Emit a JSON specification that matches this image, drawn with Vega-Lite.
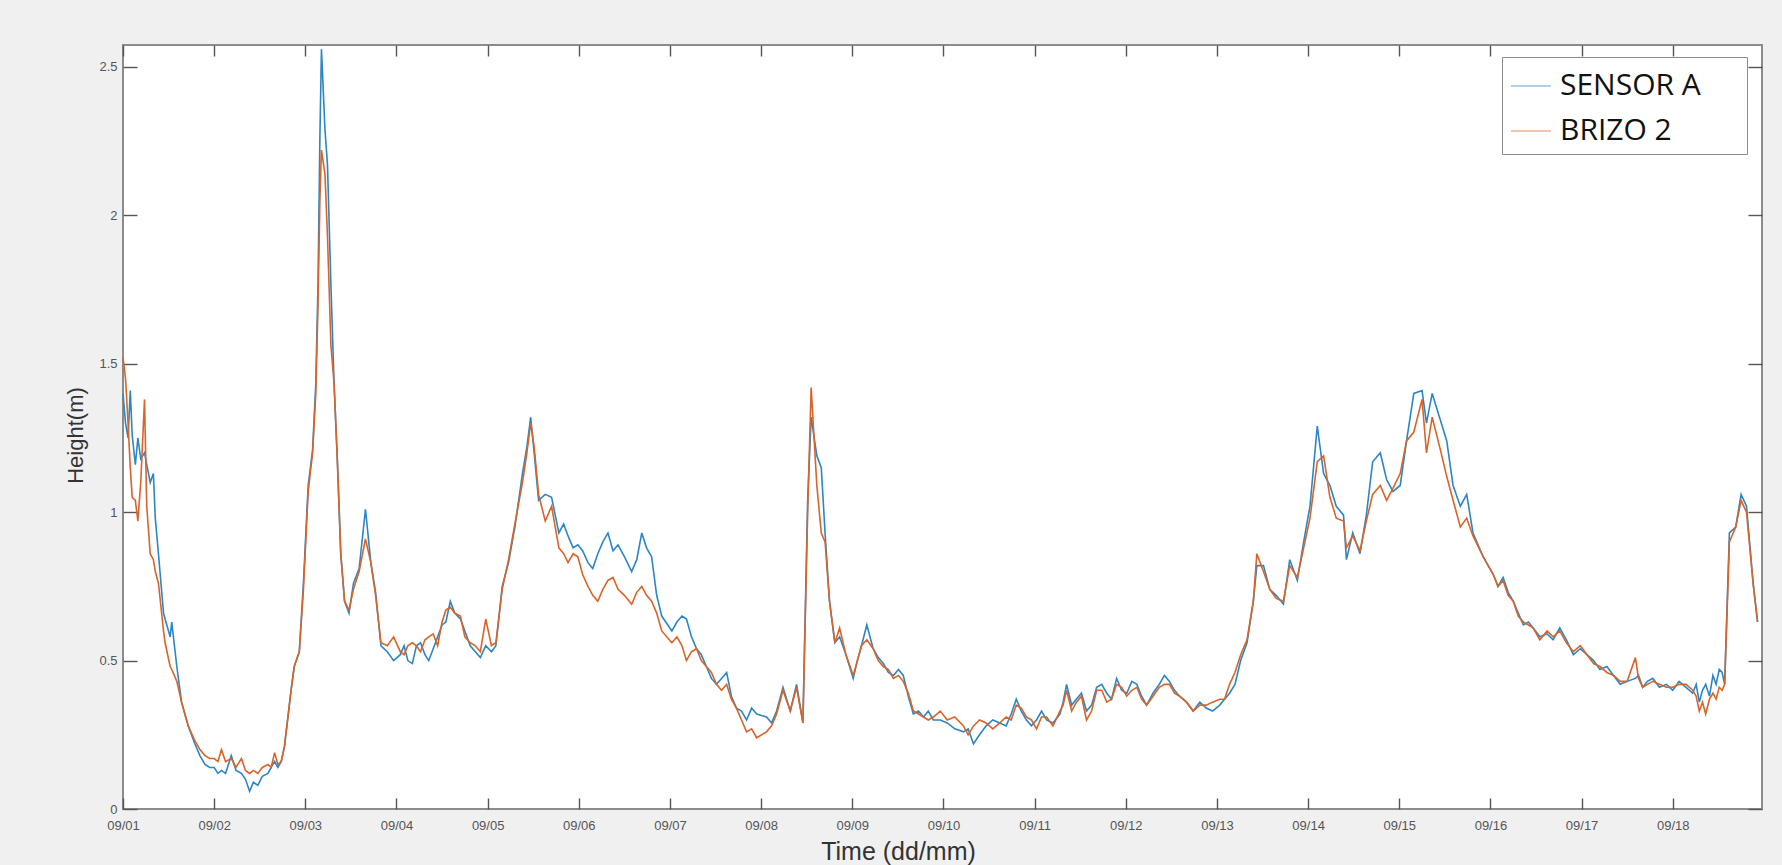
{
  "$schema": "https://vega.github.io/schema/vega-lite/v6.json",
  "autosize": "none",
  "width": 1639,
  "height": 764,
  "padding": {"left": 123, "top": 45, "right": 20, "bottom": 56},
  "background": "#f0f0f0",
  "config": {
    "view": {"fill": "white", "stroke": "#8c8c8c", "strokeWidth": 2},
    "font": "Liberation Sans"
  },
  "data": {
    "values": [
      {"t": "2018-09-01T00:00", "SENSOR A": 1.40, "BRIZO 2": 1.52},
      {"t": "2018-09-01T00:40", "SENSOR A": 1.30, "BRIZO 2": 1.45},
      {"t": "2018-09-01T01:20", "SENSOR A": 1.25, "BRIZO 2": 1.30},
      {"t": "2018-09-01T01:55", "SENSOR A": 1.41, "BRIZO 2": 1.15},
      {"t": "2018-09-01T02:25", "SENSOR A": 1.26, "BRIZO 2": 1.05},
      {"t": "2018-09-01T03:15", "SENSOR A": 1.16, "BRIZO 2": 1.04},
      {"t": "2018-09-01T03:55", "SENSOR A": 1.25, "BRIZO 2": 0.97},
      {"t": "2018-09-01T04:40", "SENSOR A": 1.18, "BRIZO 2": 1.10},
      {"t": "2018-09-01T05:40", "SENSOR A": 1.20, "BRIZO 2": 1.38},
      {"t": "2018-09-01T06:15", "SENSOR A": 1.16, "BRIZO 2": 1.02},
      {"t": "2018-09-01T07:10", "SENSOR A": 1.10, "BRIZO 2": 0.86},
      {"t": "2018-09-01T08:00", "SENSOR A": 1.13, "BRIZO 2": 0.84},
      {"t": "2018-09-01T08:30", "SENSOR A": 0.98, "BRIZO 2": 0.80},
      {"t": "2018-09-01T09:20", "SENSOR A": 0.86, "BRIZO 2": 0.76},
      {"t": "2018-09-01T10:40", "SENSOR A": 0.66, "BRIZO 2": 0.60},
      {"t": "2018-09-01T11:05", "SENSOR A": 0.64, "BRIZO 2": 0.56},
      {"t": "2018-09-01T12:25", "SENSOR A": 0.58, "BRIZO 2": 0.48},
      {"t": "2018-09-01T12:50", "SENSOR A": 0.63, "BRIZO 2": 0.47},
      {"t": "2018-09-01T14:10", "SENSOR A": 0.48, "BRIZO 2": 0.43},
      {"t": "2018-09-01T15:25", "SENSOR A": 0.36, "BRIZO 2": 0.36},
      {"t": "2018-09-01T17:10", "SENSOR A": 0.28, "BRIZO 2": 0.28},
      {"t": "2018-09-01T18:55", "SENSOR A": 0.22, "BRIZO 2": 0.23},
      {"t": "2018-09-01T20:15", "SENSOR A": 0.18, "BRIZO 2": 0.20},
      {"t": "2018-09-01T21:35", "SENSOR A": 0.15, "BRIZO 2": 0.18},
      {"t": "2018-09-01T22:50", "SENSOR A": 0.14, "BRIZO 2": 0.17},
      {"t": "2018-09-02T00:00", "SENSOR A": 0.14, "BRIZO 2": 0.17},
      {"t": "2018-09-02T01:00", "SENSOR A": 0.12, "BRIZO 2": 0.16},
      {"t": "2018-09-02T01:55", "SENSOR A": 0.13, "BRIZO 2": 0.20},
      {"t": "2018-09-02T03:00", "SENSOR A": 0.12, "BRIZO 2": 0.16},
      {"t": "2018-09-02T04:30", "SENSOR A": 0.18, "BRIZO 2": 0.17},
      {"t": "2018-09-02T05:45", "SENSOR A": 0.13, "BRIZO 2": 0.14},
      {"t": "2018-09-02T07:10", "SENSOR A": 0.12, "BRIZO 2": 0.17},
      {"t": "2018-09-02T08:15", "SENSOR A": 0.10, "BRIZO 2": 0.13},
      {"t": "2018-09-02T09:20", "SENSOR A": 0.06, "BRIZO 2": 0.12},
      {"t": "2018-09-02T10:20", "SENSOR A": 0.09, "BRIZO 2": 0.13},
      {"t": "2018-09-02T11:30", "SENSOR A": 0.08, "BRIZO 2": 0.12},
      {"t": "2018-09-02T12:40", "SENSOR A": 0.11, "BRIZO 2": 0.14},
      {"t": "2018-09-02T14:10", "SENSOR A": 0.12, "BRIZO 2": 0.15},
      {"t": "2018-09-02T15:00", "SENSOR A": 0.14, "BRIZO 2": 0.14},
      {"t": "2018-09-02T15:55", "SENSOR A": 0.16, "BRIZO 2": 0.19},
      {"t": "2018-09-02T16:45", "SENSOR A": 0.14, "BRIZO 2": 0.15},
      {"t": "2018-09-02T17:40", "SENSOR A": 0.16, "BRIZO 2": 0.16},
      {"t": "2018-09-02T18:30", "SENSOR A": 0.21, "BRIZO 2": 0.21},
      {"t": "2018-09-02T19:20", "SENSOR A": 0.30, "BRIZO 2": 0.30},
      {"t": "2018-09-02T20:15", "SENSOR A": 0.40, "BRIZO 2": 0.40},
      {"t": "2018-09-02T21:05", "SENSOR A": 0.48, "BRIZO 2": 0.48},
      {"t": "2018-09-02T22:25", "SENSOR A": 0.53, "BRIZO 2": 0.53},
      {"t": "2018-09-02T23:30", "SENSOR A": 0.76, "BRIZO 2": 0.74},
      {"t": "2018-09-03T00:45", "SENSOR A": 1.09, "BRIZO 2": 1.07},
      {"t": "2018-09-03T01:55", "SENSOR A": 1.21, "BRIZO 2": 1.20},
      {"t": "2018-09-03T02:45", "SENSOR A": 1.43, "BRIZO 2": 1.40},
      {"t": "2018-09-03T03:20", "SENSOR A": 1.76, "BRIZO 2": 1.70},
      {"t": "2018-09-03T03:50", "SENSOR A": 2.26, "BRIZO 2": 2.05},
      {"t": "2018-09-03T04:15", "SENSOR A": 2.56, "BRIZO 2": 2.22},
      {"t": "2018-09-03T05:10", "SENSOR A": 2.29, "BRIZO 2": 2.14},
      {"t": "2018-09-03T05:50", "SENSOR A": 2.17, "BRIZO 2": 1.93},
      {"t": "2018-09-03T06:45", "SENSOR A": 1.76, "BRIZO 2": 1.56},
      {"t": "2018-09-03T07:35", "SENSOR A": 1.43, "BRIZO 2": 1.43},
      {"t": "2018-09-03T08:25", "SENSOR A": 1.18, "BRIZO 2": 1.18},
      {"t": "2018-09-03T09:20", "SENSOR A": 0.86, "BRIZO 2": 0.86},
      {"t": "2018-09-03T10:20", "SENSOR A": 0.70, "BRIZO 2": 0.70},
      {"t": "2018-09-03T11:30", "SENSOR A": 0.66, "BRIZO 2": 0.67},
      {"t": "2018-09-03T12:40", "SENSOR A": 0.76, "BRIZO 2": 0.74},
      {"t": "2018-09-03T14:10", "SENSOR A": 0.81, "BRIZO 2": 0.80},
      {"t": "2018-09-03T15:50", "SENSOR A": 1.01, "BRIZO 2": 0.91},
      {"t": "2018-09-03T17:15", "SENSOR A": 0.83, "BRIZO 2": 0.83},
      {"t": "2018-09-03T18:30", "SENSOR A": 0.73, "BRIZO 2": 0.72},
      {"t": "2018-09-03T19:55", "SENSOR A": 0.55, "BRIZO 2": 0.56},
      {"t": "2018-09-03T21:35", "SENSOR A": 0.53, "BRIZO 2": 0.55},
      {"t": "2018-09-03T23:15", "SENSOR A": 0.50, "BRIZO 2": 0.58},
      {"t": "2018-09-04T01:00", "SENSOR A": 0.52, "BRIZO 2": 0.53},
      {"t": "2018-09-04T02:00", "SENSOR A": 0.55, "BRIZO 2": 0.52},
      {"t": "2018-09-04T03:00", "SENSOR A": 0.50, "BRIZO 2": 0.55},
      {"t": "2018-09-04T04:10", "SENSOR A": 0.49, "BRIZO 2": 0.56},
      {"t": "2018-09-04T05:15", "SENSOR A": 0.55, "BRIZO 2": 0.55},
      {"t": "2018-09-04T06:20", "SENSOR A": 0.56, "BRIZO 2": 0.53},
      {"t": "2018-09-04T07:30", "SENSOR A": 0.52, "BRIZO 2": 0.57},
      {"t": "2018-09-04T08:30", "SENSOR A": 0.50, "BRIZO 2": 0.58},
      {"t": "2018-09-04T09:40", "SENSOR A": 0.54, "BRIZO 2": 0.59},
      {"t": "2018-09-04T10:50", "SENSOR A": 0.58, "BRIZO 2": 0.55},
      {"t": "2018-09-04T12:00", "SENSOR A": 0.62, "BRIZO 2": 0.63},
      {"t": "2018-09-04T13:00", "SENSOR A": 0.63, "BRIZO 2": 0.67},
      {"t": "2018-09-04T14:10", "SENSOR A": 0.70, "BRIZO 2": 0.68},
      {"t": "2018-09-04T15:20", "SENSOR A": 0.66, "BRIZO 2": 0.66},
      {"t": "2018-09-04T16:50", "SENSOR A": 0.64, "BRIZO 2": 0.65},
      {"t": "2018-09-04T18:00", "SENSOR A": 0.60, "BRIZO 2": 0.58},
      {"t": "2018-09-04T19:25", "SENSOR A": 0.55, "BRIZO 2": 0.56},
      {"t": "2018-09-04T20:45", "SENSOR A": 0.53, "BRIZO 2": 0.55},
      {"t": "2018-09-04T22:05", "SENSOR A": 0.51, "BRIZO 2": 0.53},
      {"t": "2018-09-04T23:30", "SENSOR A": 0.55, "BRIZO 2": 0.64},
      {"t": "2018-09-05T01:00", "SENSOR A": 0.53, "BRIZO 2": 0.55},
      {"t": "2018-09-05T02:10", "SENSOR A": 0.55, "BRIZO 2": 0.56},
      {"t": "2018-09-05T03:50", "SENSOR A": 0.75, "BRIZO 2": 0.74},
      {"t": "2018-09-05T05:30", "SENSOR A": 0.83, "BRIZO 2": 0.84},
      {"t": "2018-09-05T07:10", "SENSOR A": 0.95, "BRIZO 2": 0.96},
      {"t": "2018-09-05T09:10", "SENSOR A": 1.13, "BRIZO 2": 1.10},
      {"t": "2018-09-05T10:20", "SENSOR A": 1.22, "BRIZO 2": 1.20},
      {"t": "2018-09-05T11:20", "SENSOR A": 1.32, "BRIZO 2": 1.30},
      {"t": "2018-09-05T12:15", "SENSOR A": 1.20, "BRIZO 2": 1.22},
      {"t": "2018-09-05T13:25", "SENSOR A": 1.04, "BRIZO 2": 1.06},
      {"t": "2018-09-05T15:10", "SENSOR A": 1.06, "BRIZO 2": 0.97},
      {"t": "2018-09-05T16:50", "SENSOR A": 1.05, "BRIZO 2": 1.02},
      {"t": "2018-09-05T18:45", "SENSOR A": 0.93, "BRIZO 2": 0.88},
      {"t": "2018-09-05T20:00", "SENSOR A": 0.96, "BRIZO 2": 0.86},
      {"t": "2018-09-05T21:10", "SENSOR A": 0.92, "BRIZO 2": 0.83},
      {"t": "2018-09-05T22:30", "SENSOR A": 0.88, "BRIZO 2": 0.86},
      {"t": "2018-09-05T23:45", "SENSOR A": 0.89, "BRIZO 2": 0.85},
      {"t": "2018-09-06T01:00", "SENSOR A": 0.87, "BRIZO 2": 0.79},
      {"t": "2018-09-06T02:25", "SENSOR A": 0.83, "BRIZO 2": 0.75},
      {"t": "2018-09-06T03:40", "SENSOR A": 0.81, "BRIZO 2": 0.72},
      {"t": "2018-09-06T05:00", "SENSOR A": 0.86, "BRIZO 2": 0.70},
      {"t": "2018-09-06T06:20", "SENSOR A": 0.90, "BRIZO 2": 0.74},
      {"t": "2018-09-06T07:40", "SENSOR A": 0.93, "BRIZO 2": 0.77},
      {"t": "2018-09-06T09:00", "SENSOR A": 0.87, "BRIZO 2": 0.78},
      {"t": "2018-09-06T10:20", "SENSOR A": 0.89, "BRIZO 2": 0.74},
      {"t": "2018-09-06T12:00", "SENSOR A": 0.85, "BRIZO 2": 0.72},
      {"t": "2018-09-06T13:55", "SENSOR A": 0.80, "BRIZO 2": 0.69},
      {"t": "2018-09-06T15:15", "SENSOR A": 0.84, "BRIZO 2": 0.73},
      {"t": "2018-09-06T16:35", "SENSOR A": 0.93, "BRIZO 2": 0.75},
      {"t": "2018-09-06T17:50", "SENSOR A": 0.88, "BRIZO 2": 0.72},
      {"t": "2018-09-06T19:10", "SENSOR A": 0.85, "BRIZO 2": 0.70},
      {"t": "2018-09-06T20:30", "SENSOR A": 0.72, "BRIZO 2": 0.66},
      {"t": "2018-09-06T21:50", "SENSOR A": 0.65, "BRIZO 2": 0.60},
      {"t": "2018-09-07T00:30", "SENSOR A": 0.60, "BRIZO 2": 0.56},
      {"t": "2018-09-07T01:50", "SENSOR A": 0.63, "BRIZO 2": 0.58},
      {"t": "2018-09-07T03:10", "SENSOR A": 0.65, "BRIZO 2": 0.55},
      {"t": "2018-09-07T04:20", "SENSOR A": 0.64, "BRIZO 2": 0.50},
      {"t": "2018-09-07T05:40", "SENSOR A": 0.58, "BRIZO 2": 0.53},
      {"t": "2018-09-07T07:00", "SENSOR A": 0.54, "BRIZO 2": 0.54},
      {"t": "2018-09-07T08:15", "SENSOR A": 0.52, "BRIZO 2": 0.50},
      {"t": "2018-09-07T09:35", "SENSOR A": 0.48, "BRIZO 2": 0.48},
      {"t": "2018-09-07T10:55", "SENSOR A": 0.44, "BRIZO 2": 0.46},
      {"t": "2018-09-07T12:15", "SENSOR A": 0.42, "BRIZO 2": 0.42},
      {"t": "2018-09-07T13:35", "SENSOR A": 0.44, "BRIZO 2": 0.40},
      {"t": "2018-09-07T14:55", "SENSOR A": 0.46, "BRIZO 2": 0.42},
      {"t": "2018-09-07T16:10", "SENSOR A": 0.38, "BRIZO 2": 0.37},
      {"t": "2018-09-07T17:30", "SENSOR A": 0.34, "BRIZO 2": 0.34},
      {"t": "2018-09-07T18:50", "SENSOR A": 0.33, "BRIZO 2": 0.30},
      {"t": "2018-09-07T20:10", "SENSOR A": 0.30, "BRIZO 2": 0.26},
      {"t": "2018-09-07T21:30", "SENSOR A": 0.34, "BRIZO 2": 0.27},
      {"t": "2018-09-07T22:50", "SENSOR A": 0.32, "BRIZO 2": 0.24},
      {"t": "2018-09-08T01:25", "SENSOR A": 0.31, "BRIZO 2": 0.26},
      {"t": "2018-09-08T02:45", "SENSOR A": 0.29, "BRIZO 2": 0.28},
      {"t": "2018-09-08T04:05", "SENSOR A": 0.33, "BRIZO 2": 0.32},
      {"t": "2018-09-08T05:45", "SENSOR A": 0.41, "BRIZO 2": 0.40},
      {"t": "2018-09-08T07:40", "SENSOR A": 0.33, "BRIZO 2": 0.33},
      {"t": "2018-09-08T09:20", "SENSOR A": 0.42, "BRIZO 2": 0.41},
      {"t": "2018-09-08T11:00", "SENSOR A": 0.29, "BRIZO 2": 0.29},
      {"t": "2018-09-08T12:15", "SENSOR A": 1.04, "BRIZO 2": 1.00},
      {"t": "2018-09-08T13:10", "SENSOR A": 1.32, "BRIZO 2": 1.42},
      {"t": "2018-09-08T14:40", "SENSOR A": 1.19, "BRIZO 2": 1.09},
      {"t": "2018-09-08T15:50", "SENSOR A": 1.15, "BRIZO 2": 0.93},
      {"t": "2018-09-08T16:50", "SENSOR A": 0.93, "BRIZO 2": 0.90},
      {"t": "2018-09-08T18:00", "SENSOR A": 0.70, "BRIZO 2": 0.70},
      {"t": "2018-09-08T19:25", "SENSOR A": 0.56, "BRIZO 2": 0.56},
      {"t": "2018-09-08T20:40", "SENSOR A": 0.58, "BRIZO 2": 0.61},
      {"t": "2018-09-08T22:20", "SENSOR A": 0.52, "BRIZO 2": 0.52},
      {"t": "2018-09-09T00:15", "SENSOR A": 0.44, "BRIZO 2": 0.45},
      {"t": "2018-09-09T01:20", "SENSOR A": 0.50, "BRIZO 2": 0.50},
      {"t": "2018-09-09T02:25", "SENSOR A": 0.55, "BRIZO 2": 0.55},
      {"t": "2018-09-09T03:50", "SENSOR A": 0.62, "BRIZO 2": 0.57},
      {"t": "2018-09-09T05:30", "SENSOR A": 0.54, "BRIZO 2": 0.54},
      {"t": "2018-09-09T06:50", "SENSOR A": 0.51, "BRIZO 2": 0.50},
      {"t": "2018-09-09T08:10", "SENSOR A": 0.49, "BRIZO 2": 0.48},
      {"t": "2018-09-09T09:30", "SENSOR A": 0.46, "BRIZO 2": 0.47},
      {"t": "2018-09-09T10:50", "SENSOR A": 0.45, "BRIZO 2": 0.44},
      {"t": "2018-09-09T12:10", "SENSOR A": 0.47, "BRIZO 2": 0.45},
      {"t": "2018-09-09T13:25", "SENSOR A": 0.45, "BRIZO 2": 0.43},
      {"t": "2018-09-09T14:45", "SENSOR A": 0.38, "BRIZO 2": 0.39},
      {"t": "2018-09-09T16:05", "SENSOR A": 0.32, "BRIZO 2": 0.33},
      {"t": "2018-09-09T17:25", "SENSOR A": 0.33, "BRIZO 2": 0.32},
      {"t": "2018-09-09T18:45", "SENSOR A": 0.31, "BRIZO 2": 0.31},
      {"t": "2018-09-09T20:00", "SENSOR A": 0.33, "BRIZO 2": 0.30},
      {"t": "2018-09-09T21:20", "SENSOR A": 0.30, "BRIZO 2": 0.31},
      {"t": "2018-09-09T23:10", "SENSOR A": 0.30, "BRIZO 2": 0.33},
      {"t": "2018-09-10T01:00", "SENSOR A": 0.29, "BRIZO 2": 0.30},
      {"t": "2018-09-10T03:00", "SENSOR A": 0.27, "BRIZO 2": 0.31},
      {"t": "2018-09-10T05:15", "SENSOR A": 0.26, "BRIZO 2": 0.28},
      {"t": "2018-09-10T06:30", "SENSOR A": 0.27, "BRIZO 2": 0.25},
      {"t": "2018-09-10T07:55", "SENSOR A": 0.22, "BRIZO 2": 0.28},
      {"t": "2018-09-10T09:30", "SENSOR A": 0.25, "BRIZO 2": 0.30},
      {"t": "2018-09-10T11:15", "SENSOR A": 0.28, "BRIZO 2": 0.29},
      {"t": "2018-09-10T13:00", "SENSOR A": 0.30, "BRIZO 2": 0.27},
      {"t": "2018-09-10T14:50", "SENSOR A": 0.29, "BRIZO 2": 0.29},
      {"t": "2018-09-10T16:30", "SENSOR A": 0.28, "BRIZO 2": 0.31},
      {"t": "2018-09-10T17:50", "SENSOR A": 0.32, "BRIZO 2": 0.30},
      {"t": "2018-09-10T19:10", "SENSOR A": 0.37, "BRIZO 2": 0.35},
      {"t": "2018-09-10T20:30", "SENSOR A": 0.33, "BRIZO 2": 0.34},
      {"t": "2018-09-10T21:50", "SENSOR A": 0.30, "BRIZO 2": 0.31},
      {"t": "2018-09-10T23:10", "SENSOR A": 0.28, "BRIZO 2": 0.30},
      {"t": "2018-09-11T00:30", "SENSOR A": 0.30, "BRIZO 2": 0.27},
      {"t": "2018-09-11T01:50", "SENSOR A": 0.33, "BRIZO 2": 0.31},
      {"t": "2018-09-11T03:10", "SENSOR A": 0.30, "BRIZO 2": 0.31},
      {"t": "2018-09-11T04:50", "SENSOR A": 0.29, "BRIZO 2": 0.28},
      {"t": "2018-09-11T06:40", "SENSOR A": 0.32, "BRIZO 2": 0.33},
      {"t": "2018-09-11T07:30", "SENSOR A": 0.36, "BRIZO 2": 0.35},
      {"t": "2018-09-11T08:25", "SENSOR A": 0.42, "BRIZO 2": 0.40},
      {"t": "2018-09-11T09:45", "SENSOR A": 0.35, "BRIZO 2": 0.33},
      {"t": "2018-09-11T11:00", "SENSOR A": 0.37, "BRIZO 2": 0.36},
      {"t": "2018-09-11T12:20", "SENSOR A": 0.39, "BRIZO 2": 0.38},
      {"t": "2018-09-11T13:40", "SENSOR A": 0.33, "BRIZO 2": 0.30},
      {"t": "2018-09-11T15:00", "SENSOR A": 0.35, "BRIZO 2": 0.33},
      {"t": "2018-09-11T16:20", "SENSOR A": 0.41, "BRIZO 2": 0.40},
      {"t": "2018-09-11T17:40", "SENSOR A": 0.42, "BRIZO 2": 0.40},
      {"t": "2018-09-11T19:00", "SENSOR A": 0.39, "BRIZO 2": 0.36},
      {"t": "2018-09-11T20:15", "SENSOR A": 0.37, "BRIZO 2": 0.37},
      {"t": "2018-09-11T21:35", "SENSOR A": 0.44, "BRIZO 2": 0.42},
      {"t": "2018-09-11T22:55", "SENSOR A": 0.40, "BRIZO 2": 0.41},
      {"t": "2018-09-12T00:15", "SENSOR A": 0.39, "BRIZO 2": 0.38},
      {"t": "2018-09-12T01:35", "SENSOR A": 0.43, "BRIZO 2": 0.40},
      {"t": "2018-09-12T02:55", "SENSOR A": 0.42, "BRIZO 2": 0.41},
      {"t": "2018-09-12T04:10", "SENSOR A": 0.38, "BRIZO 2": 0.37},
      {"t": "2018-09-12T05:30", "SENSOR A": 0.35, "BRIZO 2": 0.35},
      {"t": "2018-09-12T07:10", "SENSOR A": 0.39, "BRIZO 2": 0.38},
      {"t": "2018-09-12T08:50", "SENSOR A": 0.42, "BRIZO 2": 0.41},
      {"t": "2018-09-12T10:10", "SENSOR A": 0.45, "BRIZO 2": 0.42},
      {"t": "2018-09-12T11:30", "SENSOR A": 0.43, "BRIZO 2": 0.42},
      {"t": "2018-09-12T12:50", "SENSOR A": 0.40, "BRIZO 2": 0.39},
      {"t": "2018-09-12T14:10", "SENSOR A": 0.38, "BRIZO 2": 0.38},
      {"t": "2018-09-12T16:00", "SENSOR A": 0.36, "BRIZO 2": 0.36},
      {"t": "2018-09-12T17:45", "SENSOR A": 0.33, "BRIZO 2": 0.33},
      {"t": "2018-09-12T19:30", "SENSOR A": 0.36, "BRIZO 2": 0.35},
      {"t": "2018-09-12T21:10", "SENSOR A": 0.34, "BRIZO 2": 0.35},
      {"t": "2018-09-12T22:50", "SENSOR A": 0.33, "BRIZO 2": 0.36},
      {"t": "2018-09-13T00:45", "SENSOR A": 0.35, "BRIZO 2": 0.37},
      {"t": "2018-09-13T02:00", "SENSOR A": 0.37, "BRIZO 2": 0.37},
      {"t": "2018-09-13T03:20", "SENSOR A": 0.39, "BRIZO 2": 0.42},
      {"t": "2018-09-13T04:45", "SENSOR A": 0.42, "BRIZO 2": 0.46},
      {"t": "2018-09-13T06:15", "SENSOR A": 0.50, "BRIZO 2": 0.52},
      {"t": "2018-09-13T07:55", "SENSOR A": 0.56, "BRIZO 2": 0.57},
      {"t": "2018-09-13T09:35", "SENSOR A": 0.70, "BRIZO 2": 0.70},
      {"t": "2018-09-13T10:30", "SENSOR A": 0.82, "BRIZO 2": 0.86},
      {"t": "2018-09-13T12:15", "SENSOR A": 0.82, "BRIZO 2": 0.80},
      {"t": "2018-09-13T13:55", "SENSOR A": 0.74, "BRIZO 2": 0.74},
      {"t": "2018-09-13T15:35", "SENSOR A": 0.72, "BRIZO 2": 0.71},
      {"t": "2018-09-13T17:30", "SENSOR A": 0.69, "BRIZO 2": 0.70},
      {"t": "2018-09-13T19:10", "SENSOR A": 0.84, "BRIZO 2": 0.82},
      {"t": "2018-09-13T21:10", "SENSOR A": 0.77, "BRIZO 2": 0.78},
      {"t": "2018-09-13T22:50", "SENSOR A": 0.90, "BRIZO 2": 0.88},
      {"t": "2018-09-14T00:30", "SENSOR A": 1.02, "BRIZO 2": 0.98},
      {"t": "2018-09-14T02:25", "SENSOR A": 1.29, "BRIZO 2": 1.17},
      {"t": "2018-09-14T04:05", "SENSOR A": 1.13, "BRIZO 2": 1.19},
      {"t": "2018-09-14T05:45", "SENSOR A": 1.09, "BRIZO 2": 1.05},
      {"t": "2018-09-14T07:25", "SENSOR A": 1.02, "BRIZO 2": 0.98},
      {"t": "2018-09-14T09:20", "SENSOR A": 0.99, "BRIZO 2": 0.97},
      {"t": "2018-09-14T10:05", "SENSOR A": 0.84, "BRIZO 2": 0.88},
      {"t": "2018-09-14T11:45", "SENSOR A": 0.93, "BRIZO 2": 0.92},
      {"t": "2018-09-14T13:40", "SENSOR A": 0.86, "BRIZO 2": 0.87},
      {"t": "2018-09-14T15:20", "SENSOR A": 0.99, "BRIZO 2": 0.97},
      {"t": "2018-09-14T17:00", "SENSOR A": 1.17, "BRIZO 2": 1.06},
      {"t": "2018-09-14T19:00", "SENSOR A": 1.20, "BRIZO 2": 1.09},
      {"t": "2018-09-14T20:40", "SENSOR A": 1.11, "BRIZO 2": 1.04},
      {"t": "2018-09-14T22:20", "SENSOR A": 1.07, "BRIZO 2": 1.08},
      {"t": "2018-09-15T00:15", "SENSOR A": 1.09, "BRIZO 2": 1.13},
      {"t": "2018-09-15T01:55", "SENSOR A": 1.24, "BRIZO 2": 1.24},
      {"t": "2018-09-15T03:50", "SENSOR A": 1.40, "BRIZO 2": 1.27},
      {"t": "2018-09-15T06:00", "SENSOR A": 1.41, "BRIZO 2": 1.38},
      {"t": "2018-09-15T07:10", "SENSOR A": 1.30, "BRIZO 2": 1.20},
      {"t": "2018-09-15T08:40", "SENSOR A": 1.40, "BRIZO 2": 1.32},
      {"t": "2018-09-15T10:50", "SENSOR A": 1.31, "BRIZO 2": 1.21},
      {"t": "2018-09-15T12:30", "SENSOR A": 1.24, "BRIZO 2": 1.12},
      {"t": "2018-09-15T14:10", "SENSOR A": 1.09, "BRIZO 2": 1.04},
      {"t": "2018-09-15T16:05", "SENSOR A": 1.02, "BRIZO 2": 0.95},
      {"t": "2018-09-15T17:45", "SENSOR A": 1.06, "BRIZO 2": 0.98},
      {"t": "2018-09-15T19:25", "SENSOR A": 0.93, "BRIZO 2": 0.92},
      {"t": "2018-09-15T22:05", "SENSOR A": 0.85, "BRIZO 2": 0.85},
      {"t": "2018-09-16T00:45", "SENSOR A": 0.79, "BRIZO 2": 0.79},
      {"t": "2018-09-16T02:00", "SENSOR A": 0.75, "BRIZO 2": 0.75},
      {"t": "2018-09-16T03:20", "SENSOR A": 0.78, "BRIZO 2": 0.77},
      {"t": "2018-09-16T04:40", "SENSOR A": 0.73, "BRIZO 2": 0.72},
      {"t": "2018-09-16T06:00", "SENSOR A": 0.70, "BRIZO 2": 0.70},
      {"t": "2018-09-16T07:20", "SENSOR A": 0.66, "BRIZO 2": 0.65},
      {"t": "2018-09-16T08:40", "SENSOR A": 0.62, "BRIZO 2": 0.63},
      {"t": "2018-09-16T10:00", "SENSOR A": 0.63, "BRIZO 2": 0.62},
      {"t": "2018-09-16T11:15", "SENSOR A": 0.61, "BRIZO 2": 0.61},
      {"t": "2018-09-16T13:00", "SENSOR A": 0.58, "BRIZO 2": 0.57},
      {"t": "2018-09-16T14:55", "SENSOR A": 0.59, "BRIZO 2": 0.60},
      {"t": "2018-09-16T16:30", "SENSOR A": 0.57, "BRIZO 2": 0.58},
      {"t": "2018-09-16T18:15", "SENSOR A": 0.61, "BRIZO 2": 0.60},
      {"t": "2018-09-16T20:00", "SENSOR A": 0.57, "BRIZO 2": 0.56},
      {"t": "2018-09-16T21:50", "SENSOR A": 0.52, "BRIZO 2": 0.53},
      {"t": "2018-09-16T23:40", "SENSOR A": 0.54, "BRIZO 2": 0.55},
      {"t": "2018-09-17T01:25", "SENSOR A": 0.52, "BRIZO 2": 0.52},
      {"t": "2018-09-17T03:10", "SENSOR A": 0.50, "BRIZO 2": 0.49},
      {"t": "2018-09-17T04:50", "SENSOR A": 0.47, "BRIZO 2": 0.48},
      {"t": "2018-09-17T06:40", "SENSOR A": 0.48, "BRIZO 2": 0.46},
      {"t": "2018-09-17T08:25", "SENSOR A": 0.45, "BRIZO 2": 0.45},
      {"t": "2018-09-17T10:10", "SENSOR A": 0.42, "BRIZO 2": 0.43},
      {"t": "2018-09-17T12:00", "SENSOR A": 0.43, "BRIZO 2": 0.43},
      {"t": "2018-09-17T14:10", "SENSOR A": 0.44, "BRIZO 2": 0.51},
      {"t": "2018-09-17T15:00", "SENSOR A": 0.45, "BRIZO 2": 0.44},
      {"t": "2018-09-17T16:05", "SENSOR A": 0.41, "BRIZO 2": 0.41},
      {"t": "2018-09-17T17:20", "SENSOR A": 0.43, "BRIZO 2": 0.42},
      {"t": "2018-09-17T18:45", "SENSOR A": 0.44, "BRIZO 2": 0.43},
      {"t": "2018-09-17T20:30", "SENSOR A": 0.41, "BRIZO 2": 0.42},
      {"t": "2018-09-17T22:20", "SENSOR A": 0.42, "BRIZO 2": 0.41},
      {"t": "2018-09-18T00:00", "SENSOR A": 0.40, "BRIZO 2": 0.41},
      {"t": "2018-09-18T01:40", "SENSOR A": 0.43, "BRIZO 2": 0.42},
      {"t": "2018-09-18T03:30", "SENSOR A": 0.41, "BRIZO 2": 0.42},
      {"t": "2018-09-18T05:15", "SENSOR A": 0.39, "BRIZO 2": 0.40},
      {"t": "2018-09-18T06:10", "SENSOR A": 0.42, "BRIZO 2": 0.38},
      {"t": "2018-09-18T07:00", "SENSOR A": 0.36, "BRIZO 2": 0.33},
      {"t": "2018-09-18T07:50", "SENSOR A": 0.40, "BRIZO 2": 0.36},
      {"t": "2018-09-18T08:40", "SENSOR A": 0.42, "BRIZO 2": 0.32},
      {"t": "2018-09-18T09:40", "SENSOR A": 0.38, "BRIZO 2": 0.37},
      {"t": "2018-09-18T10:35", "SENSOR A": 0.45, "BRIZO 2": 0.39},
      {"t": "2018-09-18T11:25", "SENSOR A": 0.42, "BRIZO 2": 0.37},
      {"t": "2018-09-18T12:15", "SENSOR A": 0.47, "BRIZO 2": 0.41},
      {"t": "2018-09-18T13:00", "SENSOR A": 0.46, "BRIZO 2": 0.40},
      {"t": "2018-09-18T13:40", "SENSOR A": 0.42, "BRIZO 2": 0.42},
      {"t": "2018-09-18T14:55", "SENSOR A": 0.93, "BRIZO 2": 0.90},
      {"t": "2018-09-18T16:35", "SENSOR A": 0.95, "BRIZO 2": 0.95},
      {"t": "2018-09-18T18:00", "SENSOR A": 1.06, "BRIZO 2": 1.04},
      {"t": "2018-09-18T19:25", "SENSOR A": 1.02, "BRIZO 2": 1.00},
      {"t": "2018-09-18T21:10", "SENSOR A": 0.76, "BRIZO 2": 0.76},
      {"t": "2018-09-18T22:20", "SENSOR A": 0.63, "BRIZO 2": 0.63}
    ]
  },
  "transform": [{"fold": ["SENSOR A", "BRIZO 2"], "as": ["series", "height"]}],
  "layer": [
    {
      "mark": {"type": "line", "strokeWidth": 1.6},
      "encoding": {
        "x": {
          "field": "t", "type": "temporal",
          "scale": {"domain": [{"year": 2018, "month": 9, "date": 1}, {"year": 2018, "month": 9, "date": 18, "hours": 23, "minutes": 30}], "nice": false},
          "axis": {
            "orient": "bottom", "tickCount": {"interval": "day", "step": 1}, "format": "%m/%d",
            "grid": false, "domain": false, "labelFontSize": 13, "labelColor": "#555555", "labelFlush": false,
            "tickColor": "#555555", "tickSize": -11, "tickWidth": 1.4, "labelPadding": 21,
            "title": "Time (dd/mm)", "titleFontSize": 25, "titleFontWeight": "normal", "titleColor": "#333333",
            "titleX": 775, "titleY": 50, "titleBaseline": "alphabetic", "titleAlign": "center"
          }
        },
        "y": {
          "field": "height", "type": "quantitative",
          "scale": {"domain": [0, 2.574], "nice": false, "zero": false},
          "axis": {
            "orient": "left", "values": [0, 0.5, 1, 1.5, 2, 2.5], "format": ".1~f",
            "grid": false, "domain": false, "labelFontSize": 13, "labelColor": "#555555",
            "tickColor": "#555555", "tickSize": -14, "tickWidth": 1.4, "labelPadding": 20,
            "title": "Height(m)", "titleFontSize": 22, "titleFontWeight": "normal", "titleColor": "#333333",
            "titleX": -41, "titleY": 390, "titleAngle": 270, "titleBaseline": "alphabetic", "titleAlign": "center"
          }
        },
        "color": {
          "field": "series", "type": "nominal",
          "scale": {"domain": ["SENSOR A", "BRIZO 2"], "range": ["#2c86c4", "#d9642a"]},
          "legend": {
            "title": " ", "titleOrient": "right", "titlePadding": 38, "titleFontSize": 10,
            "orient": "none", "legendX": 1379, "legendY": 12,
            "symbolType": "stroke", "symbolSize": 1600, "symbolStrokeWidth": 1.5, "symbolOpacity": 0.5,
            "labelFont": "Open Sans", "labelFontSize": 30, "labelColor": "#111111", "labelOffset": 8,
            "rowPadding": 9, "padding": 8, "strokeColor": "#8c8c8c", "fillColor": "white",
            "labelLimit": 400
          }
        }
      }
    },
    {
      "mark": {"type": "line", "opacity": 0},
      "encoding": {
        "x": {
          "field": "t", "type": "temporal",
          "axis": {"orient": "top", "tickCount": {"interval": "day", "step": 1}, "labels": false, "grid": false, "domain": false, "tickColor": "#555555", "tickSize": -11, "tickWidth": 1.4, "title": null}
        },
        "y": {
          "field": "height", "type": "quantitative",
          "axis": {"orient": "right", "values": [0, 0.5, 1, 1.5, 2, 2.5], "labels": false, "grid": false, "domain": false, "tickColor": "#555555", "tickSize": -14, "tickWidth": 1.4, "title": null}
        }
      }
    }
  ],
  "resolve": {"axis": {"x": "independent", "y": "independent"}}
}
